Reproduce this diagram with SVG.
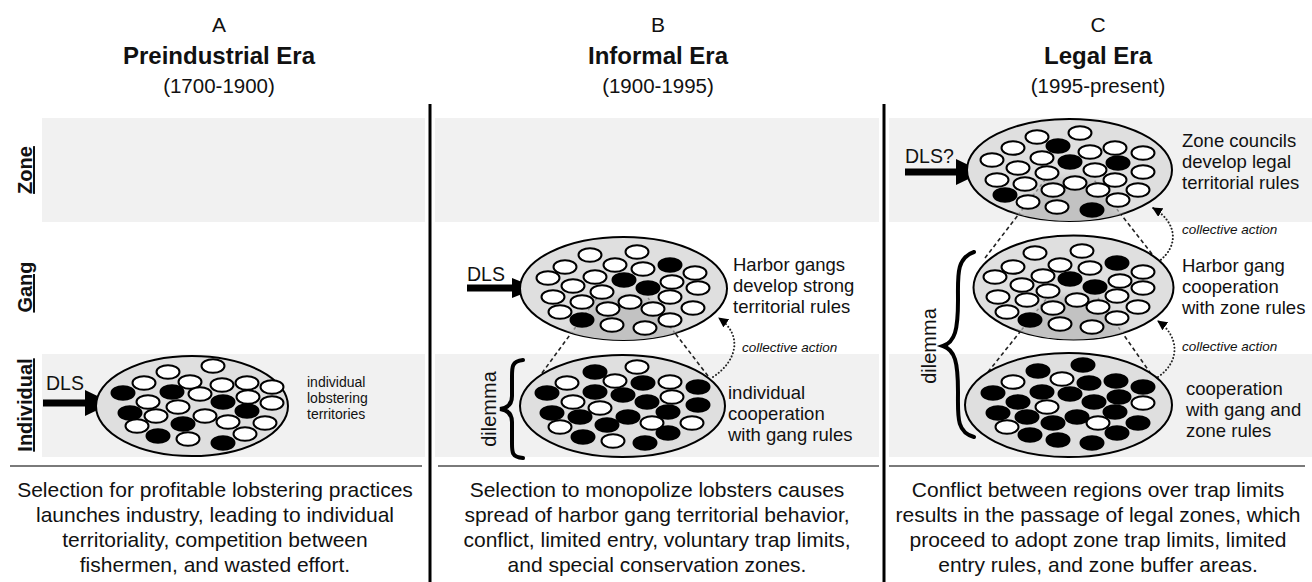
<svg xmlns="http://www.w3.org/2000/svg" xmlns:xlink="http://www.w3.org/1999/xlink" width="1312" height="582" viewBox="0 0 1312 582">
<defs>
<style>
.band{fill:#f1f1f1}
.sep{stroke:#000;stroke-width:3}
.hr{stroke:#7a7a7a;stroke-width:2}
.big{fill:#dfdfdf;stroke:#000;stroke-width:2}
.shade{fill:#c2c2c2}
.gdash{stroke:#8a8a8a;stroke-width:1.5;stroke-dasharray:3 3;fill:none}
.kdash{stroke:#222;stroke-width:1.6;stroke-dasharray:4 3;fill:none}
.dot{stroke:#222;stroke-width:2;stroke-dasharray:0.1 3.4;stroke-linecap:round;fill:none}
.brace{stroke:#000;stroke-width:4;fill:none;stroke-linecap:round}
.t{font-family:"Liberation Sans",Arial,sans-serif;fill:#111}
.lbl{font-size:18.5px}
.lblA{font-size:14px}
.desc{font-size:21px;text-anchor:middle}
.ttl{font-size:24px;font-weight:bold;text-anchor:middle}
.let{font-size:21px;text-anchor:middle}
.yr{font-size:20.5px;text-anchor:middle}
.row{font-size:20px;font-weight:bold;text-anchor:middle;text-decoration:underline}
.ca{font-size:13.5px;font-style:italic}
.dls{font-size:19.5px}
.dil{font-size:20px}
</style>
<ellipse id="W" cx="0" cy="0" rx="11.5" ry="6.8" fill="#fff" stroke="#000" stroke-width="2"/>
<ellipse id="K" cx="0" cy="0" rx="11.5" ry="6.8" fill="#000" stroke="#000" stroke-width="2"/>
<marker id="ah" viewBox="0 0 10 10" refX="9" refY="5" markerWidth="10" markerHeight="10" markerUnits="userSpaceOnUse" orient="auto"><path d="M0,0 L10,5 L0,10 z" fill="#000"/></marker>
<filter id="blur" x="-20%" y="-20%" width="140%" height="140%"><feGaussianBlur stdDeviation="4"/></filter>
<clipPath id="cBG"><ellipse cx="623.5" cy="288.5" rx="103.5" ry="51.5"/></clipPath>
<clipPath id="cCG"><ellipse cx="1073.5" cy="287.5" rx="100" ry="52"/></clipPath>
<clipPath id="cCZ"><ellipse cx="1069.5" cy="170" rx="102.5" ry="51"/></clipPath>
</defs>
<rect width="1312" height="582" fill="#fff"/>

<g id="bands">
<rect class="band" x="42" y="118" width="383" height="104"/>
<rect class="band" x="435" y="118" width="444" height="104"/>
<rect class="band" x="889" y="118" width="423" height="104"/>
<rect class="band" x="42" y="354" width="383" height="103"/>
<rect class="band" x="435" y="354" width="444" height="103"/>
<rect class="band" x="889" y="354" width="423" height="103"/>
<line class="hr" x1="10" y1="466" x2="422" y2="466"/>
<line class="hr" x1="438" y1="466" x2="879" y2="466"/>
<line class="hr" x1="889" y1="466" x2="1305" y2="466"/>
<line class="sep" x1="430" y1="104" x2="430" y2="582"/>
<line class="sep" x1="884" y1="104" x2="884" y2="582"/>
</g>

<g id="headers" class="t">
<text class="let" x="219" y="32">A</text>
<text class="ttl" x="219" y="64">Preindustrial Era</text>
<text class="yr" x="219" y="93">(1700-1900)</text>
<text class="let" x="658" y="32">B</text>
<text class="ttl" x="658" y="64">Informal Era</text>
<text class="yr" x="658" y="93">(1900-1995)</text>
<text class="let" x="1098" y="32">C</text>
<text class="ttl" x="1098" y="64">Legal Era</text>
<text class="yr" x="1098" y="93">(1995-present)</text>
<text class="row" transform="translate(32,170) rotate(-90)">Zone</text>
<text class="row" transform="translate(32,287) rotate(-90)">Gang</text>
<text class="row" transform="translate(32,405) rotate(-90)">Individual</text>
</g>

<g id="connectors">
<path class="kdash" d="M542 373 L597 298"/>
<path class="kdash" d="M708 376 L648 298"/>
<path class="kdash" d="M988 372 L1047 298"/>
<path class="kdash" d="M1151 374 L1098 298"/>
<path class="kdash" d="M985 258 L1045 180"/>
<path class="kdash" d="M1152 254 L1094 180"/>
<path class="dot" d="M713 377 C736 362 744 336 719 318" marker-end="url(#ah)"/>
<path class="dot" d="M1158 262 C1180 246 1177 222 1153 208" marker-end="url(#ah)"/>
<path class="dot" d="M1158 377 C1181 361 1179 336 1158 321" marker-end="url(#ah)"/>
<text class="t ca" x="742" y="352">collective action</text>
<text class="t ca" x="1182" y="234">collective action</text>
<text class="t ca" x="1182" y="351">collective action</text>
<path class="brace" d="M523 360 C511 361 512 368 512 380 L512 396 C512 404 508 408 500 409 C508 410 512 414 512 422 L512 440 C512 452 511 457 523 458"/>
<text class="t dil" transform="translate(496,409) rotate(-90)" text-anchor="middle">dilemma</text>
<path class="brace" stroke-width="5" d="M974 252 C956 258 958 276 958 300 C958 330 955 342 943 346 C955 350 958 362 958 392 C958 416 956 432 974 437"/>
<text class="t dil" transform="translate(936,346) rotate(-90)" text-anchor="middle">dilemma</text>
</g>

<g id="nodeA">
<path d="M43 399.5 H85 V390 L112 403 L85 416 V406.5 H43 Z" fill="#000"/>
<text class="t dls" x="46" y="390">DLS</text>
<ellipse class="big" cx="192" cy="406" rx="96" ry="50"/>
<use href="#W" x="168" y="372"/><use href="#W" x="213" y="366"/><use href="#W" x="144" y="383"/><use href="#W" x="190" y="382"/><use href="#W" x="222" y="385"/><use href="#W" x="247" y="383"/><use href="#W" x="272" y="387"/>
<use href="#K" x="123" y="393"/><use href="#K" x="172" y="392"/><use href="#W" x="200" y="394"/><use href="#W" x="248" y="397"/>
<use href="#K" x="223" y="402"/><use href="#W" x="148" y="402"/><use href="#W" x="178" y="407"/><use href="#W" x="272" y="403"/>
<use href="#K" x="247" y="411"/><use href="#K" x="130" y="413"/><use href="#W" x="156" y="416"/><use href="#W" x="205" y="416"/>
<use href="#K" x="183" y="424"/><use href="#W" x="228" y="422"/><use href="#W" x="137" y="426"/><use href="#W" x="265" y="423"/>
<use href="#K" x="158" y="436"/><use href="#W" x="188" y="439"/><use href="#W" x="245" y="434"/><use href="#K" x="223" y="443"/>
<text class="t lblA"><tspan x="307" y="387">individual</tspan><tspan x="307" y="403">lobstering</tspan><tspan x="307" y="419">territories</tspan></text>
</g>

<g id="nodeBgang">
<path d="M467 284.5 H512 V278 L537 288 L512 298 V291.5 H467 Z" fill="#000"/>
<text class="t dls" x="467" y="281">DLS</text>
<ellipse class="big" cx="623.5" cy="288.5" rx="103.5" ry="51.5"/>
<g clip-path="url(#cBG)">
<polygon class="shade" filter="url(#blur)" points="542,373 597,296 648,296 708,376"/>
<path class="gdash" d="M542 373 L597 298 M708 376 L648 298"/>
</g>
<use href="#W" x="590" y="255"/><use href="#W" x="637" y="252"/><use href="#W" x="565" y="267"/><use href="#W" x="615" y="265"/><use href="#W" x="643" y="269"/><use href="#K" x="670" y="265"/><use href="#W" x="695" y="273"/>
<use href="#W" x="548" y="278"/><use href="#W" x="595" y="277"/><use href="#K" x="624" y="280"/><use href="#W" x="672" y="282"/>
<use href="#W" x="573" y="286"/><use href="#K" x="648" y="288"/><use href="#W" x="698" y="288"/><use href="#W" x="602" y="292"/>
<use href="#W" x="553" y="297"/><use href="#W" x="582" y="302"/><use href="#W" x="630" y="302"/><use href="#W" x="670" y="297"/>
<use href="#W" x="608" y="309"/><use href="#W" x="653" y="309"/><use href="#W" x="693" y="308"/><use href="#W" x="560" y="312"/>
<use href="#W" x="670" y="320"/><use href="#K" x="582" y="320"/><use href="#W" x="612" y="325"/><use href="#W" x="645" y="328"/>
<text class="t lbl"><tspan x="733" y="271">Harbor gangs</tspan><tspan x="733" y="292">develop strong</tspan><tspan x="733" y="313">territorial rules</tspan></text>
</g>

<g id="nodeBind">
<ellipse class="big" cx="622.5" cy="406" rx="102.5" ry="51"/>
<use href="#K" x="595" y="372"/><use href="#W" x="637" y="367"/><use href="#W" x="567" y="383"/><use href="#W" x="615" y="381"/><use href="#K" x="643" y="383"/><use href="#W" x="670" y="382"/><use href="#K" x="698" y="387"/>
<use href="#K" x="547" y="393"/><use href="#K" x="595" y="392"/><use href="#K" x="623" y="395"/><use href="#W" x="672" y="397"/>
<use href="#W" x="573" y="402"/><use href="#K" x="647" y="402"/><use href="#K" x="698" y="405"/><use href="#W" x="600" y="408"/>
<use href="#K" x="552" y="413"/><use href="#K" x="668" y="412"/><use href="#K" x="580" y="417"/><use href="#K" x="628" y="417"/>
<use href="#W" x="652" y="423"/><use href="#W" x="692" y="423"/><use href="#K" x="607" y="425"/><use href="#W" x="560" y="427"/>
<use href="#K" x="668" y="433"/><use href="#K" x="583" y="437"/><use href="#W" x="613" y="441"/><use href="#K" x="645" y="443"/>
<text class="t lbl"><tspan x="728" y="399">individual</tspan><tspan x="728" y="420">cooperation</tspan><tspan x="728" y="441">with gang rules</tspan></text>
</g>

<g id="nodeCzone">
<path d="M905 168.5 H956 V159 L983 172 L956 185 V175.5 H905 Z" fill="#000"/>
<text class="t dls" x="905" y="163">DLS?</text>
<ellipse class="big" cx="1069.5" cy="170" rx="102.5" ry="51"/>
<g clip-path="url(#cCZ)">
<polygon class="shade" filter="url(#blur)" points="985,258 1045,178 1094,178 1152,254"/>
<path class="gdash" d="M985 258 L1045 180 M1152 254 L1094 180"/>
</g>
<use href="#W" x="1037" y="137"/><use href="#W" x="1080" y="133"/><use href="#W" x="1013" y="148"/><use href="#K" x="1058" y="146"/><use href="#W" x="1090" y="152"/><use href="#W" x="1115" y="148"/><use href="#W" x="1143" y="153"/>
<use href="#W" x="992" y="160"/><use href="#W" x="1042" y="158"/><use href="#K" x="1070" y="162"/><use href="#K" x="1118" y="163"/>
<use href="#W" x="1018" y="168"/><use href="#W" x="1095" y="170"/><use href="#W" x="1143" y="172"/><use href="#W" x="1047" y="173"/>
<use href="#W" x="997" y="180"/><use href="#W" x="1025" y="184"/><use href="#W" x="1075" y="183"/><use href="#W" x="1115" y="180"/>
<use href="#W" x="1053" y="190"/><use href="#W" x="1098" y="190"/><use href="#W" x="1138" y="190"/><use href="#K" x="1005" y="195"/>
<use href="#W" x="1028" y="202"/><use href="#W" x="1118" y="200"/><use href="#W" x="1057" y="207"/><use href="#K" x="1092" y="210"/>
<text class="t lbl"><tspan x="1182" y="147">Zone councils</tspan><tspan x="1182" y="168">develop legal</tspan><tspan x="1182" y="189">territorial rules</tspan></text>
</g>

<g id="nodeCgang">
<ellipse class="big" cx="1073.5" cy="287.5" rx="100" ry="52"/>
<g clip-path="url(#cCG)">
<polygon class="shade" filter="url(#blur)" points="988,372 1047,296 1098,296 1151,374"/>
<path class="gdash" d="M988 372 L1047 298 M1151 374 L1098 298"/>
</g>
<use href="#W" x="1035" y="253"/><use href="#W" x="1082" y="251"/><use href="#W" x="1013" y="267"/><use href="#W" x="1060" y="265"/><use href="#W" x="1090" y="268"/><use href="#K" x="1117" y="263"/><use href="#W" x="1143" y="272"/>
<use href="#W" x="995" y="277"/><use href="#W" x="1043" y="276"/><use href="#K" x="1070" y="279"/><use href="#W" x="1120" y="281"/>
<use href="#W" x="1022" y="285"/><use href="#K" x="1095" y="287"/><use href="#W" x="1143" y="288"/><use href="#W" x="1048" y="291"/>
<use href="#W" x="998" y="297"/><use href="#W" x="1027" y="300"/><use href="#W" x="1077" y="300"/><use href="#W" x="1117" y="296"/>
<use href="#W" x="1053" y="308"/><use href="#W" x="1098" y="307"/><use href="#W" x="1138" y="307"/><use href="#W" x="1007" y="312"/>
<use href="#K" x="1030" y="320"/><use href="#W" x="1117" y="318"/><use href="#W" x="1060" y="324"/><use href="#W" x="1092" y="327"/>
<text class="t lbl"><tspan x="1182" y="272">Harbor gang</tspan><tspan x="1182" y="293">cooperation</tspan><tspan x="1182" y="314">with zone rules</tspan></text>
</g>

<g id="nodeCind">
<ellipse class="big" cx="1068.5" cy="405" rx="103.5" ry="52"/>
<use href="#K" x="1038" y="371"/><use href="#K" x="1083" y="365"/><use href="#W" x="1013" y="382"/><use href="#W" x="1062" y="379"/><use href="#K" x="1089" y="383"/><use href="#K" x="1116" y="381"/><use href="#K" x="1143" y="387"/>
<use href="#K" x="993" y="393"/><use href="#K" x="1042" y="392"/><use href="#K" x="1070" y="394"/><use href="#K" x="1119" y="397"/>
<use href="#K" x="1018" y="402"/><use href="#W" x="1047" y="407"/><use href="#K" x="1094" y="402"/><use href="#W" x="1143" y="403"/>
<use href="#K" x="998" y="413"/><use href="#K" x="1027" y="417"/><use href="#K" x="1077" y="417"/><use href="#K" x="1115" y="412"/>
<use href="#K" x="1053" y="423"/><use href="#W" x="1098" y="423"/><use href="#K" x="1138" y="423"/><use href="#W" x="1007" y="427"/>
<use href="#K" x="1030" y="435"/><use href="#K" x="1117" y="433"/><use href="#K" x="1058" y="440"/><use href="#K" x="1092" y="443"/>
<text class="t lbl"><tspan x="1186" y="395">cooperation</tspan><tspan x="1186" y="416">with gang and</tspan><tspan x="1186" y="437">zone rules</tspan></text>
</g>

<g id="descriptions" class="t desc">
<text><tspan x="215" y="497">Selection for profitable lobstering practices</tspan><tspan x="215" y="522">launches industry, leading to individual</tspan><tspan x="215" y="547">territoriality, competition between</tspan><tspan x="215" y="572">fishermen, and wasted effort.</tspan></text>
<text><tspan x="657" y="497">Selection to monopolize lobsters causes</tspan><tspan x="657" y="522">spread of harbor gang territorial behavior,</tspan><tspan x="657" y="547">conflict, limited entry, voluntary trap limits,</tspan><tspan x="657" y="572">and special conservation zones.</tspan></text>
<text><tspan x="1098" y="497">Conflict between regions over trap limits</tspan><tspan x="1098" y="522">results in the passage of legal zones, which</tspan><tspan x="1098" y="547">proceed to adopt zone trap limits, limited</tspan><tspan x="1098" y="572">entry rules, and zone buffer areas.</tspan></text>
</g>
</svg>
